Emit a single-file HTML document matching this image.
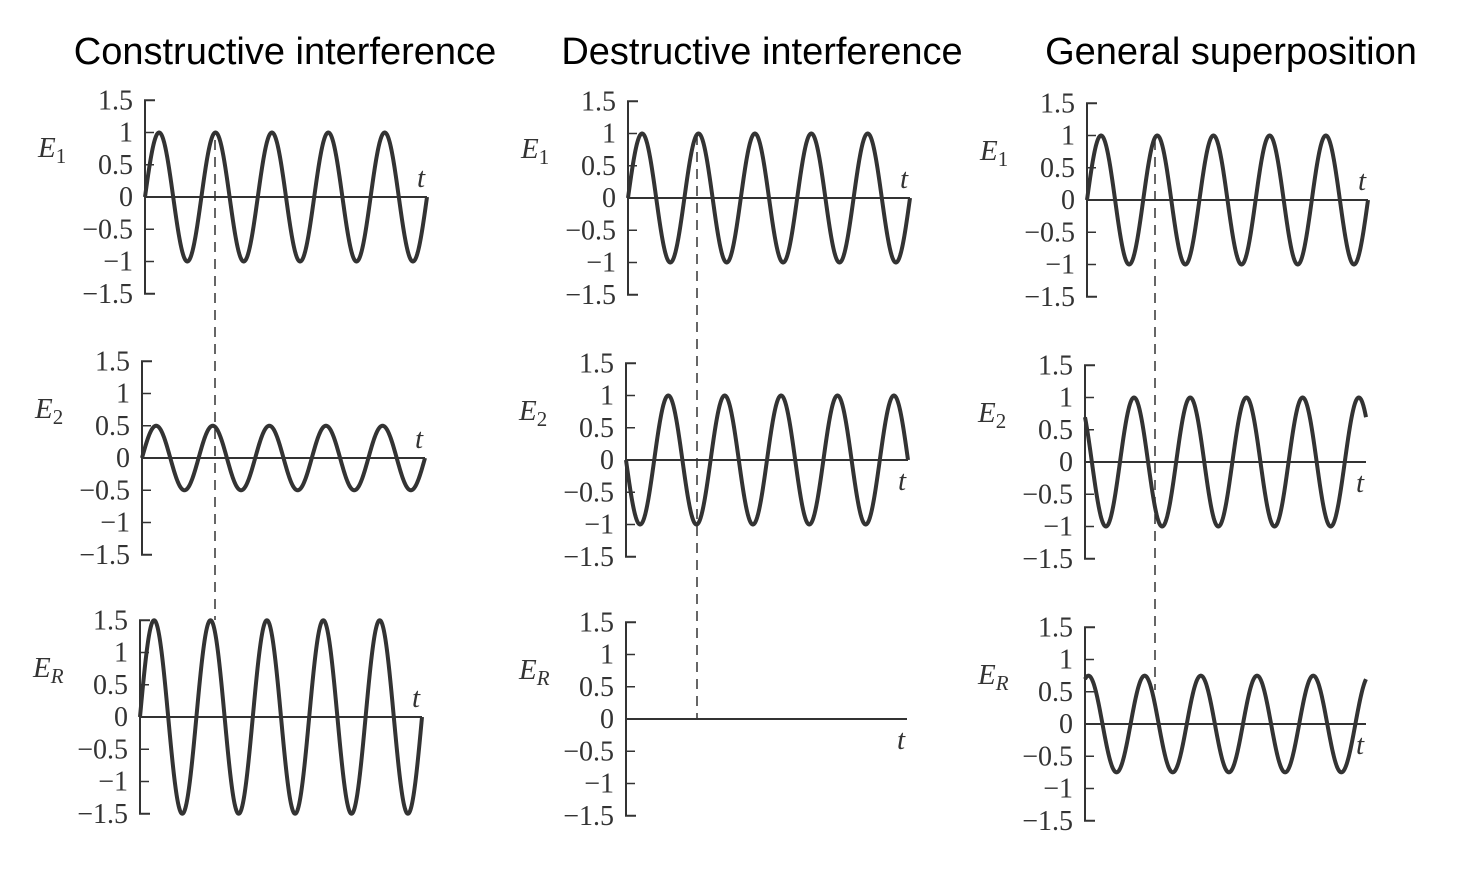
<!DOCTYPE html>
<html><head><meta charset="utf-8"><style>
html,body{margin:0;padding:0;background:#fff;}
svg{display:block;}
.title{font-family:"Liberation Sans",sans-serif;font-size:38px;fill:#000;}
.tick{font-family:"Liberation Serif",serif;font-size:28px;fill:#333;}
.lab{font-family:"Liberation Serif",serif;font-style:italic;font-size:29px;fill:#333;}
</style></head><body>
<svg id="chart" width="1474" height="884" viewBox="0 0 1474 884">
<text class="title" x="285" y="64" text-anchor="middle">Constructive interference</text>
<text class="title" x="762" y="64" text-anchor="middle">Destructive interference</text>
<text class="title" x="1231" y="64" text-anchor="middle">General superposition</text>
</svg>
<script>
// data: per-column wave parameters (amplitude, phase in degrees)
const columns = ["constructive","destructive","general"];
const e1Amp = [1, 1, 1];
const e1Phase = [0, 0, 0];
const e2Amp = [0.5, 1, 1];
const e2Phase = [0, 180, 136];
const cycles = 5.0;
const tickValues = [1.5, 1, 0.5, 0, -0.5, -1, -1.5];
const tickLabels = ["1.5","1","0.5","0","\u22120.5","\u22121","\u22121.5"];
const rowNames = ["E1","E2","ER"];

// layout: [axisX, zeroY, endX] per column/row
const layout = [
  [[145,197,427],[142,458,425],[140,717,422]],
  [[628,198,910],[626,460,908],[626,719,907]],
  [[1087,200,1368],[1085,462,1366],[1085,724,1366]]
];
const unit = 64.5;
const svg = document.getElementById('chart');
const NS = 'http://www.w3.org/2000/svg';
function mk(tag, attrs){const e=document.createElementNS(NS,tag);for(const k in attrs)e.setAttribute(k,attrs[k]);svg.appendChild(e);return e;}

function waveVal(c,r,th){
  const a=e1Amp[c]*Math.sin(th+e1Phase[c]*Math.PI/180);
  const b=e2Amp[c]*Math.sin(th+e2Phase[c]*Math.PI/180);
  return r===0?a:(r===1?b:a+b);
}

for(let c=0;c<3;c++){
  for(let r=0;r<3;r++){
    const [ax,zy,ex]=layout[c][r];
    const y=v=>zy-v*unit;
    const axis=mk('path',{d:`M${ax+10},${y(1.5)} H${ax} V${y(-1.5)} H${ax+10}`,fill:'none',stroke:'#333','stroke-width':2});
    
    
    tickValues.forEach((v,i)=>{
      if(Math.abs(v)<1.5){const tk=mk('line',{x1:ax,x2:ax+9,y1:y(v),y2:y(v),stroke:'#333','stroke-width':1.5});
        
        }
      const t=mk('text',{class:'tick',x:ax-12,y:y(v)+9,'text-anchor':'end'});
      t.textContent=tickLabels[i];
      
      
    });
    const xa=mk('line',{x1:ax,x2:ex,y1:zy,y2:zy,stroke:'#333','stroke-width':2});
    
    
    const tl=mk('text',{class:'lab',x:ex-10,y:(c===0||r===0)?zy-10:zy+30});
    tl.textContent='t';
    
    
    const lab=mk('text',{class:'lab',x:ax-107,y:zy-40});
    lab.innerHTML='E<tspan font-size="21" dy="6" font-style="'+(r===2?'italic':'normal')+'">'+(r===0?'1':r===1?'2':'R')+'</tspan>';
    
    
    let d='';
    const N=600;
    let maxAbs=0;
    for(let i=0;i<=N;i++){
      const th=i/N*cycles*2*Math.PI;
      const px=ax+(ex-ax)*i/N;
      const v=waveVal(c,r,th);
      maxAbs=Math.max(maxAbs,Math.abs(v));
      d+=(i?'L':'M')+px.toFixed(2)+','+y(v).toFixed(2);
    }
    const w=mk('path',{d,fill:'none',stroke:'#333','stroke-width':maxAbs<0.01?2:4,'stroke-linejoin':'round'});
    
    
  }
}
// dashed guide lines
const dashes=[[215,140,620],[697,135,718],[1155,140,690]];
dashes.forEach((dd,i)=>{
  const l=mk('line',{x1:dd[0],x2:dd[0],y1:dd[1],y2:dd[2],stroke:'#333','stroke-width':1.5,'stroke-dasharray':'10,7'});
  
  
});
</script>
</body></html>
